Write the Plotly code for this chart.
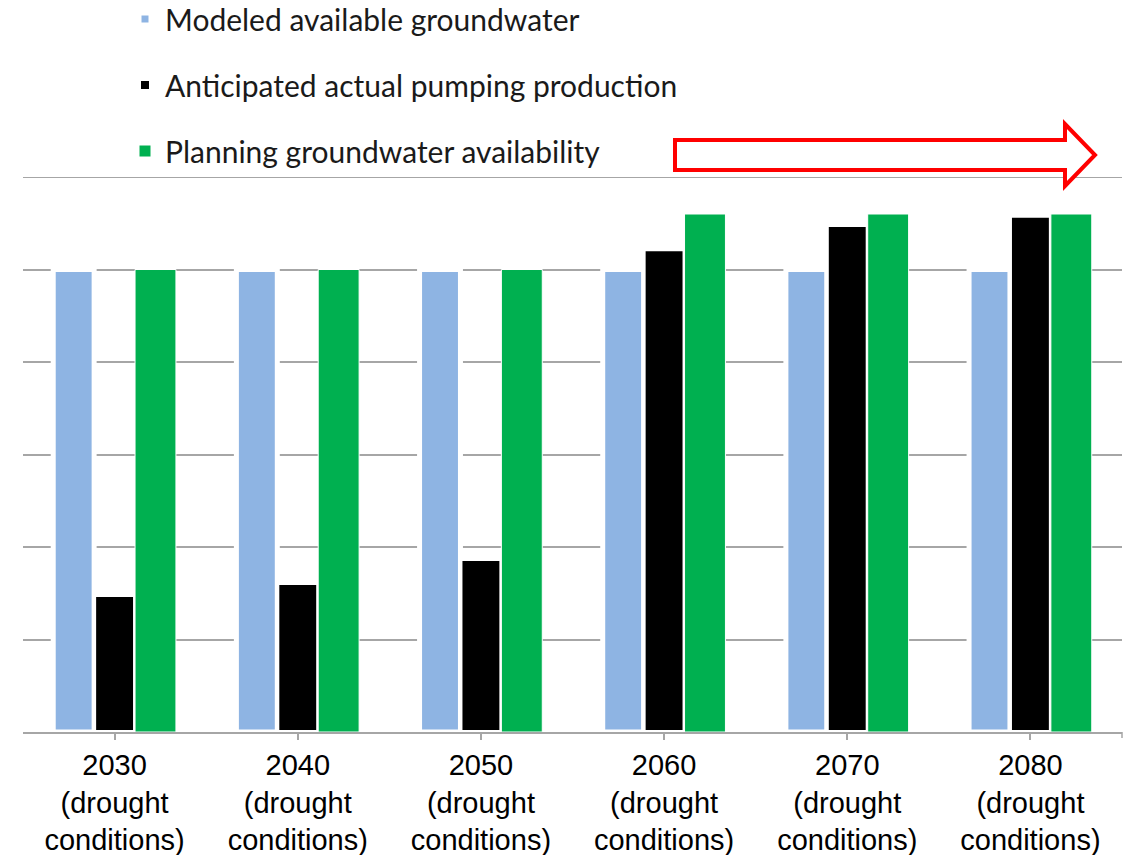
import plotly.graph_objects as go

categories = ["2030<br>(drought<br>conditions)", "2040<br>(drought<br>conditions)",
              "2050<br>(drought<br>conditions)", "2060<br>(drought<br>conditions)",
              "2070<br>(drought<br>conditions)", "2080<br>(drought<br>conditions)"]
modeled = [5.0, 5.0, 5.0, 5.0, 5.0, 5.0]
anticipated = [1.48, 1.61, 1.87, 5.22, 5.48, 5.58]
planning = [5.0, 5.0, 5.0, 5.6, 5.6, 5.6]
series_names = ["Modeled available groundwater",
                "Anticipated actual pumping production",
                "Planning groundwater availability"]
y_max = 6

W, H = 1132, 855
L, R, T, B = 23, 10, 177, 123

def px_x(p):
    return (p - L) / (W - L - R)

def px_y(p):
    return (H - B - p) / (H - B - T)

fig = go.Figure()
fig.add_trace(go.Bar(x=categories, y=modeled, name=series_names[0], legendgroup="a",
                     marker=dict(color="#8eb4e3", line=dict(color="white", width=5))))
fig.add_trace(go.Bar(x=categories, y=anticipated, name=series_names[1], legendgroup="b",
                     marker=dict(color="#000000", line=dict(color="white", width=4))))
fig.add_trace(go.Bar(x=categories, y=planning, name=series_names[2], legendgroup="c",
                     marker=dict(color="#00b050", line=dict(color="white", width=1))))

# top gridline at the range maximum
fig.add_shape(type="line", xref="paper", yref="y", x0=0, x1=1, y0=y_max, y1=y_max,
              line=dict(color="#a6a6a6", width=2), layer="below")
# red hollow arrow (outline path in pixel positions converted to paper)
pts = [(675, 140), (1065, 140), (1065, 124), (1095, 155), (1065, 186), (1065, 170), (675, 170)]
path = "M " + " L ".join(f"{px_x(x):.5f},{px_y(y):.5f}" for x, y in pts) + " Z"
fig.add_shape(type="path", xref="paper", yref="paper", path=path,
              line=dict(color="#ff0000", width=4), fillcolor="white")
# end tick at right of axis
fig.add_shape(type="line", xref="paper", yref="paper", x0=1, x1=1, y0=0, y1=px_y(738),
              line=dict(color="#a6a6a6", width=1.5))

fig.update_layout(
    width=W, height=H,
    margin=dict(l=L, r=R, t=T, b=B, autoexpand=False),
    plot_bgcolor="white", paper_bgcolor="white",
    barmode="group", bargap=0.33, bargroupgap=0,
    showlegend=True,
    legend=dict(x=px_x(125), y=px_y(-7), xanchor="left", yanchor="top",
                orientation="v", tracegroupgap=24,
                font=dict(family="Lato", size=30, color="#1a1a1a"),
                bgcolor="rgba(0,0,0,0)"),
)
fig.update_xaxes(showline=True, linecolor="#a6a6a6", linewidth=2,
                 ticks="outside", ticklen=6, tickcolor="#a6a6a6", tickwidth=1.5,
                 tickfont=dict(family="Liberation Sans", size=29, color="black"),
                 ticklabelstandoff=0,
                 showgrid=False, automargin=False)
fig.update_yaxes(range=[0, y_max], tick0=0, dtick=1, showgrid=True, gridcolor="#a6a6a6", gridwidth=2,
                 showticklabels=False, zeroline=False, showline=False, automargin=False)

fig.write_html("out.html", config={"displayModeBar": False},
               post_script="document.body.style.margin='0';document.body.style.overflow='hidden';")
